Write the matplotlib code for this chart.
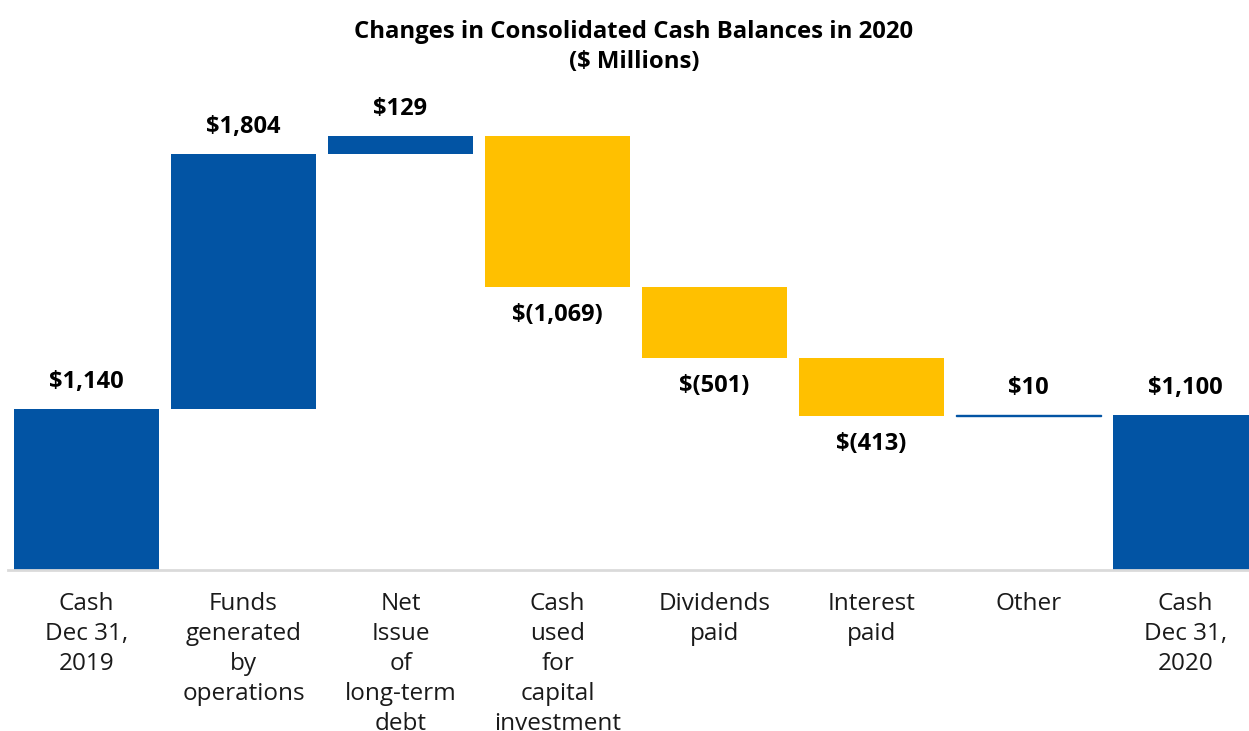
import matplotlib
matplotlib.use("Agg")
import matplotlib.pyplot as plt
import numpy as np

categories = ["Cash\nDec 31,\n2019", "Funds\ngenerated\nby\noperations", "Net\nIssue\nof\nlong-term\ndebt",
              "Cash\nused\nfor\ncapital\ninvestment", "Dividends\npaid", "Interest\npaid", "Other",
              "Cash\nDec 31,\n2020"]
values = [1140, 1804, 129, -1069, -501, -413, 10, 1100]
is_total = [True, False, False, False, False, False, False, True]
value_labels = ["$1,140", "$1,804", "$129", "$(1,069)", "$(501)", "$(413)", "$10", "$1,100"]

BLUE = "#0254A4"
YELLOW = "#FFC000"

plt.rcParams['font.family'] = ['Open Sans', 'DejaVu Sans']

W, H = 1249, 731
fig = plt.figure(figsize=(W / 100, H / 100), dpi=100)
ax_left, ax_right = 8 / W, 1.0
ax_bottom = (H - 570) / H
ax_top = (H - 90) / H
ax = fig.add_axes([ax_left, ax_bottom, ax_right - ax_left, ax_top - ax_bottom])

bottoms, heights, colors = [], [], []
running = 0
for v, tot in zip(values, is_total):
    if tot:
        bottoms.append(0)
        heights.append(v)
        colors.append(BLUE)
        running = v
    else:
        if v >= 0:
            bottoms.append(running)
            heights.append(v)
            colors.append(BLUE)
        else:
            bottoms.append(running + v)
            heights.append(-v)
            colors.append(YELLOW)
        running += v

x = np.arange(len(categories))
# thin bars get a hairline edge so they stay visible, as in the reference
lws = [1.0 if abs(v) < 50 else 0 for v in values]
ax.bar(x, heights, bottom=bottoms, width=0.9236, color=colors, edgecolor=colors, linewidth=lws)

for i, (b, h, v, tot) in enumerate(zip(bottoms, heights, values, is_total)):
    if v >= 0:
        ax.annotate(value_labels[i], (x[i], b + h), xytext=(0, 19.5), textcoords='offset points',
                    ha='center', va='center', fontsize=17, fontweight='bold', color='black')
    else:
        ax.annotate(value_labels[i], (x[i], b), xytext=(0, -20), textcoords='offset points',
                    ha='center', va='center', fontsize=17, fontweight='bold', color='black')

ax.set_xlim(-0.5, 7.404)
ax.set_ylim(0, 480 / 0.1412)
ax.set_yticks([])
ax.set_xticks(x)
ax.set_xticklabels(categories, fontsize=17.5, linespacing=1.34, color='#1a1a1a')
ax.tick_params(axis='x', length=0, pad=15.5)
for s in ['top', 'right', 'left']:
    ax.spines[s].set_visible(False)
ax.spines['bottom'].set_color('#DADADA')
ax.spines['bottom'].set_linewidth(2)

fig.text(634 / W, 1 - 47 / H, "Changes in Consolidated Cash Balances in 2020\n($ Millions)",
         ha='center', va='center', fontsize=17.2, fontweight='bold', linespacing=1.35)

fig.savefig("out.png", dpi=100, facecolor='white')
